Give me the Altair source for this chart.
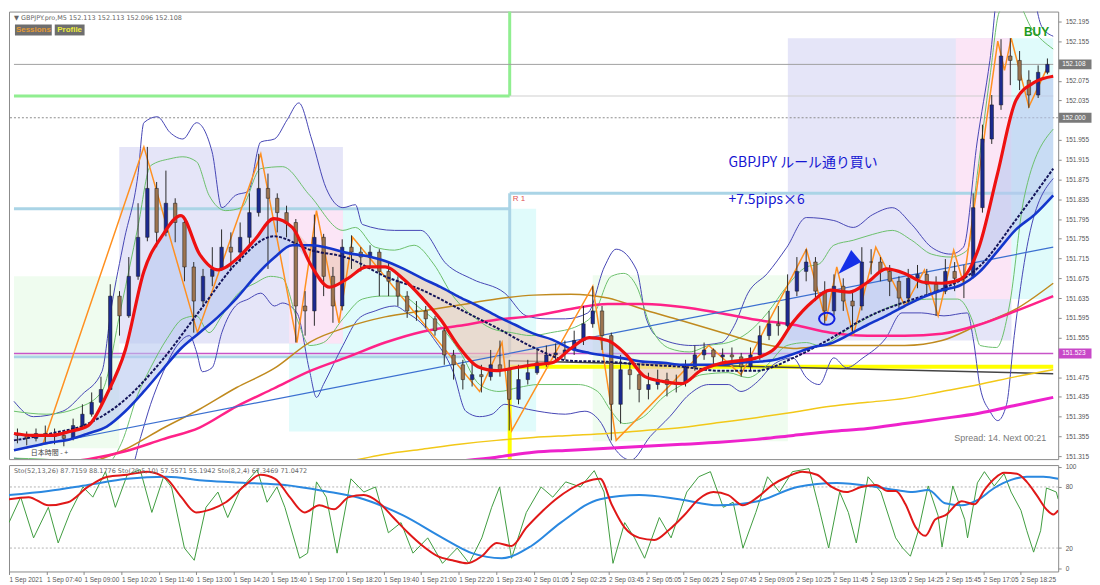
import json
import altair as alt
import pandas as pd

# ---------------- chart content ----------------
symbol_header = "\u25bc GBPJPY.pro,M5  152.113 152.113 152.096 152.108"
stoch_header = "Sto(52,13,26) 87.7159 88.1776  Sto(20,5,10) 57.5571 55.1942  Sto(8,2,4) 67.3469 71.0472"

time_labels = ["1 Sep 2021", "1 Sep 07:40", "1 Sep 09:00", "1 Sep 10:20", "1 Sep 11:40", "1 Sep 13:00",
               "1 Sep 14:20", "1 Sep 15:40", "1 Sep 17:00", "1 Sep 18:20", "1 Sep 19:40", "1 Sep 21:00",
               "1 Sep 22:20", "1 Sep 23:40", "2 Sep 01:05", "2 Sep 02:25", "2 Sep 03:45", "2 Sep 05:05",
               "2 Sep 06:25", "2 Sep 07:45", "2 Sep 09:05", "2 Sep 10:25", "2 Sep 11:45", "2 Sep 13:05",
               "2 Sep 14:25", "2 Sep 15:45", "2 Sep 17:05", "2 Sep 18:25"]
time_tick_bars = [0, 16, 32, 48, 64, 80, 96, 112, 128, 144, 160, 176, 192, 208, 224, 240, 256, 272,
                  288, 304, 320, 336, 352, 368, 384, 400, 416, 432]
# (152.115, 151.995 and 151.515 are hidden behind the price tags)
price_ticks = [151.315, 151.355, 151.395, 151.435, 151.475, 151.555, 151.595, 151.635,
               151.675, 151.715, 151.755, 151.795, 151.835, 151.875, 151.915, 151.955,
               152.035, 152.075, 152.155, 152.195]
stoch_ticks = [0, 20, 80, 100]
stoch_levels = [20, 80]

# 20-minute candles (bar index = M5 bar number)
first_open = 151.360
candle_close = [151.357, 151.351, 151.361, 151.355, 151.357, 151.351, 151.377, 151.400, 151.424, 151.450,
                151.639, 151.599, 151.679, 151.758, 151.857, 151.768, 151.827, 151.788, 151.698, 151.629,
                151.679, 151.694, 151.738, 151.728, 151.758, 151.808, 151.857, 151.837, 151.808, 151.788,
                151.619, 151.609, 151.758, 151.679, 151.619, 151.738, 151.728, 151.718, 151.728, 151.689,
                151.669, 151.639, 151.609, 151.609, 151.593, 151.569, 151.520, 151.500, 151.470, 151.480,
                151.476, 151.500, 151.490, 151.430, 151.470, 151.484, 151.504, 151.520, 151.524, 151.530,
                151.549, 151.583, 151.609, 151.559, 151.420, 151.490, 151.480, 151.450, 151.460, 151.470,
                151.460, 151.464, 151.496, 151.520, 151.530, 151.516, 151.520, 151.516, 151.496, 151.520,
                151.559, 151.583, 151.579, 151.649, 151.689, 151.708, 151.649, 151.609, 151.659, 151.629,
                151.619, 151.708, 151.708, 151.689, 151.669, 151.635, 151.675, 151.683, 151.663, 151.649,
                151.689, 151.675, 151.679, 151.818, 151.957, 152.026, 152.125, 152.116, 152.076, 152.046,
                152.092, 152.108]
candle_high = [151.371, 151.365, 151.371, 151.377, 151.371, 151.367, 151.391, 151.420, 151.444, 151.476,
               151.663, 151.649, 151.718, 151.827, 151.941, 151.870, 151.893, 151.837, 151.798, 151.708,
               151.694, 151.738, 151.774, 151.768, 151.788, 151.847, 151.927, 151.887, 151.847, 151.822,
               151.795, 151.649, 151.804, 151.765, 151.698, 151.754, 151.762, 151.738, 151.742, 151.734,
               151.708, 151.679, 151.649, 151.629, 151.619, 151.599, 151.575, 151.530, 151.510, 151.504,
               151.500, 151.530, 151.549, 151.510, 151.500, 151.510, 151.530, 151.539, 151.543, 151.549,
               151.569, 151.619, 151.659, 151.619, 151.565, 151.520, 151.510, 151.500, 151.484, 151.490,
               151.484, 151.480, 151.510, 151.539, 151.545, 151.533, 151.533, 151.535, 151.524, 151.535,
               151.579, 151.609, 151.619, 151.683, 151.718, 151.734, 151.718, 151.669, 151.683, 151.675,
               151.649, 151.738, 151.734, 151.718, 151.702, 151.679, 151.694, 151.702, 151.694, 151.679,
               151.714, 151.708, 151.702, 151.847, 151.986, 152.046, 152.159, 152.161, 152.135, 152.096,
               152.106, 152.120]
candle_low = [151.341, 151.337, 151.345, 151.341, 151.339, 151.335, 151.347, 151.370, 151.395, 151.418,
              151.450, 151.559, 151.595, 151.672, 151.750, 151.738, 151.760, 151.748, 151.669, 151.565,
              151.619, 151.659, 151.690, 151.694, 151.708, 151.738, 151.800, 151.694, 151.768, 151.758,
              151.545, 151.559, 151.579, 151.639, 151.585, 151.610, 151.694, 151.689, 151.694, 151.639,
              151.639, 151.619, 151.595, 151.589, 151.575, 151.559, 151.500, 151.470, 151.450, 151.456,
              151.444, 151.468, 151.476, 151.367, 151.420, 151.460, 151.480, 151.496, 151.504, 151.510,
              151.520, 151.540, 151.575, 151.530, 151.347, 151.381, 151.450, 151.424, 151.430, 151.450,
              151.436, 151.444, 151.456, 151.488, 151.510, 151.500, 151.504, 151.500, 151.476, 151.488,
              151.510, 151.550, 151.559, 151.575, 151.639, 151.669, 151.629, 151.583, 151.600, 151.609,
              151.563, 151.610, 151.683, 151.669, 151.639, 151.615, 151.623, 151.655, 151.639, 151.599,
              151.643, 151.649, 151.635, 151.675, 151.808, 151.947, 152.016, 152.066, 152.056, 152.020,
              152.040, 152.088]

# moving averages, sampled every 8 bars
ma_fast_bars = list(range(0, 449, 8))
red_ma = [151.361, 151.357, 151.357, 151.365, 151.377, 151.440, 151.530, 151.689, 151.762, 151.802,
          151.724, 151.692, 151.714, 151.754, 151.796, 151.778, 151.702, 151.657, 151.675, 151.698,
          151.698, 151.673, 151.635, 151.591, 151.535, 151.496, 151.488, 151.494, 151.500, 151.504,
          151.533, 151.555, 151.549, 151.520, 151.476, 151.466, 151.462, 151.488, 151.502, 151.508,
          151.514, 151.533, 151.587, 151.627, 151.651, 151.647, 151.667, 151.694, 151.685, 151.667,
          151.665, 151.673, 151.738, 151.887, 152.036, 152.072, 152.084]
blue_ma = [151.327, 151.335, 151.343, 151.349, 151.361, 151.375, 151.406, 151.446, 151.490, 151.533,
           151.565, 151.597, 151.635, 151.679, 151.716, 151.742, 151.742, 151.736, 151.726, 151.720,
           151.710, 151.694, 151.675, 151.657, 151.637, 151.619, 151.599, 151.581, 151.563, 151.551,
           151.533, 151.524, 151.518, 151.512, 151.506, 151.504, 151.500, 151.500, 151.500, 151.504,
           151.506, 151.510, 151.522, 151.535, 151.543, 151.561, 151.581, 151.599, 151.619, 151.637,
           151.651, 151.661, 151.687, 151.730, 151.774, 151.804, 151.843]
# slower averages, sampled every 16 bars
ma_slow_bars = list(range(0, 449, 16))
navy_ma = [151.347, 151.361, 151.381, 151.430, 151.510, 151.609, 151.706, 151.760, 151.732, 151.716,
           151.679, 151.651, 151.613, 151.575, 151.535, 151.508, 151.506, 151.500, 151.496, 151.488,
           151.488, 151.514, 151.553, 151.597, 151.627, 151.653, 151.698, 151.794, 151.897]
pink_ma = [151.297, 151.301, 151.309, 151.325, 151.349, 151.373, 151.416, 151.452, 151.488, 151.516,
           151.545, 151.567, 151.579, 151.591, 151.599, 151.613, 151.623, 151.623, 151.617, 151.605,
           151.591, 151.581, 151.565, 151.559, 151.559, 151.563, 151.581, 151.609, 151.639]
brown_ma = [151.271, 151.285, 151.301, 151.329, 151.371, 151.410, 151.454, 151.492, 151.547, 151.577,
            151.597, 151.609, 151.621, 151.633, 151.641, 151.643, 151.635, 151.611, 151.589, 151.567,
            151.545, 151.533, 151.539, 151.539, 151.539, 151.549, 151.581, 151.613, 151.665]
yellow_bars = list(range(112, 449, 16))
yellow_ma = [151.291, 151.299, 151.305, 151.319, 151.329, 151.339, 151.347, 151.353, 151.357, 151.361,
             151.367, 151.373, 151.383, 151.393, 151.404, 151.416, 151.424, 151.432, 151.446, 151.460,
             151.476, 151.490]
magenta_bars = list(range(192, 449, 16))
magenta_ma = [151.305, 151.313, 151.323, 151.327, 151.331, 151.335, 151.339, 151.343, 151.349, 151.357,
              151.365, 151.371, 151.381, 151.391, 151.402, 151.418, 151.434]
trend_bars = [0, 448]
trend_vals = [151.327, 151.738]

# Bollinger outer bands
bb_up_bars = [0, 8.4, 21.0, 29.4, 37.9, 42.1, 47.5, 53.4, 56.0, 61.8, 67.3, 72.8, 78.7, 85.4, 89.6,
              95.5, 101.0, 106.4, 112.3, 117.8, 122.8, 128.3, 134.6, 141.8, 147.2, 150.2, 164.1, 175.4,
              186.4, 197.7, 211.6, 220.9, 229.3, 237.7, 247.4, 254.5, 259.6, 268.4, 272.6, 278.5, 292.4,
              305.0, 310.5, 316.4, 324.8, 333.2, 341.6, 353.4, 361.8, 370.2, 378.6, 387.0, 395.5, 403.9,
              409.3, 415.2, 420.7, 424.9, 437.5, 443.0, 448.0]
bb_up_vals = [151.426, 151.395, 151.406, 151.440, 151.486, 151.619, 151.752, 151.883, 151.990, 152.002,
              151.970, 151.957, 151.990, 151.931, 151.818, 151.843, 151.851, 151.951, 151.957, 151.996,
              152.030, 151.957, 151.857, 151.818, 151.824, 151.784, 151.772, 151.772, 151.704, 151.673,
              151.645, 151.599, 151.593, 151.593, 151.605, 151.698, 151.734, 151.692, 151.593, 151.553,
              151.539, 151.545, 151.579, 151.645, 151.685, 151.738, 151.798, 151.792, 151.778, 151.804,
              151.818, 151.784, 151.738, 151.724, 151.738, 151.951, 152.116, 152.275, 152.275, 152.185,
              152.165]
bb_lo_bars = [0, 25.2, 42.1, 50.5, 54.7, 58.9, 64.4, 70.3, 75.7, 78.7, 81.2, 85.4, 89.6, 95.5, 101.0,
              106.4, 112.3, 115.7, 122.0, 127.5, 130.4, 133.4, 141.8, 148.5, 155.7, 164.1, 169.5, 175.4,
              180.9, 189.3, 194.8, 200.7, 206.1, 211.6, 217.5, 225.9, 237.7, 246.1, 253.3, 257.5, 265.9,
              274.3, 282.7, 291.1, 299.5, 307.9, 313.4, 320.6, 327.3, 335.7, 341.6, 347.1, 353.4, 358.9,
              366.0, 375.7, 382.8, 391.2, 400.9, 411.0, 413.5, 416.5, 420.7, 424.1, 427.9, 431.2, 437.5,
              448.0]
bb_lo_vals = [151.311, 151.297, 151.281, 151.291, 151.355, 151.420, 151.486, 151.539, 151.559, 151.526,
              151.486, 151.494, 151.565, 151.619, 151.633, 151.645, 151.619, 151.625, 151.605, 151.486,
              151.434, 151.460, 151.539, 151.593, 151.609, 151.619, 151.605, 151.585, 151.553, 151.486,
              151.406, 151.395, 151.400, 151.420, 151.414, 151.406, 151.400, 151.406, 151.381, 151.341,
              151.307, 151.355, 151.395, 151.440, 151.460, 151.460, 151.446, 151.466, 151.500, 151.514,
              151.474, 151.460, 151.514, 151.494, 151.514, 151.553, 151.605, 151.605, 151.599, 151.605,
              151.553, 151.454, 151.406, 151.387, 151.420, 151.559, 151.758, 151.877]
# inner (green) bands
env_up_bars = [0, 13.9, 28.2, 37.9, 46.3, 53.4, 58.9, 67.3, 72.8, 78.7, 84.1, 91.3, 98.0, 106.4, 115.7,
               127.5, 141.8, 147.2, 155.7, 164.1, 172.5, 180.9, 189.3, 197.7, 206.1, 214.6, 223.0, 231.4,
               243.2, 250.3, 257.5, 262.9, 268.4, 274.3, 282.7, 291.1, 299.5, 307.9, 316.4, 324.8, 333.2,
               341.6, 347.1, 353.4, 361.8, 370.2, 378.6, 387.0, 395.5, 403.9, 411.0, 415.2, 420.7, 424.9,
               432.0, 438.7, 448.0]
env_up_vals = [151.406, 151.400, 151.414, 151.446, 151.619, 151.778, 151.903, 151.917, 151.921, 151.911,
               151.843, 151.812, 151.818, 151.897, 151.901, 151.843, 151.772, 151.778, 151.738, 151.732,
               151.742, 151.704, 151.639, 151.599, 151.573, 151.565, 151.559, 151.565, 151.579, 151.605,
               151.679, 151.685, 151.659, 151.579, 151.533, 151.526, 151.539, 151.545, 151.565, 151.605,
               151.659, 151.698, 151.704, 151.742, 151.752, 151.764, 151.772, 151.752, 151.724, 151.718,
               151.732, 151.883, 152.082, 152.215, 152.235, 152.181, 152.139]
env_lo_bars = [0, 25.2, 39.1, 46.3, 53.4, 58.9, 66.0, 72.8, 78.7, 84.1, 89.6, 96.8, 103.9, 110.6, 115.7,
               122.0, 127.5, 133.4, 141.8, 150.2, 158.6, 167.0, 175.4, 183.8, 192.3, 200.7, 209.1, 217.5,
               225.9, 243.2, 251.6, 257.5, 262.9, 271.4, 279.8, 288.2, 296.6, 307.9, 316.4, 324.8, 333.2,
               341.6, 347.1, 361.8, 378.6, 395.5, 406.8, 413.5, 416.5, 423.6, 429.1, 435.4, 448.0]
env_lo_vals = [151.311, 151.305, 151.297, 151.341, 151.440, 151.494, 151.553, 151.593, 151.599, 151.565,
               151.599, 151.645, 151.665, 151.679, 151.675, 151.593, 151.539, 151.545, 151.593, 151.633,
               151.639, 151.639, 151.613, 151.579, 151.526, 151.460, 151.446, 151.454, 151.460, 151.460,
               151.446, 151.406, 151.381, 151.395, 151.434, 151.460, 151.480, 151.484, 151.474, 151.500,
               151.539, 151.545, 151.539, 151.579, 151.619, 151.633, 151.633, 151.585, 151.539, 151.535,
               151.619, 151.837, 151.977]
# zigzag
zz_bars = [12.6, 56.0, 79.1, 106.4, 122.0, 130.4, 140.1, 146.0, 200.7, 210.4, 214.6, 249.5, 259.6,
           299.5, 313.4, 341.6, 350.0, 354.7, 361.8, 371.5, 384.1, 392.5, 398.4, 405.1, 409.3, 424.1,
           427.0, 429.9, 437.5, 445.9]
zz_vals = [151.341, 151.941, 151.565, 151.927, 151.545, 151.812, 151.585, 151.758, 151.446, 151.545,
           151.367, 151.659, 151.347, 151.539, 151.480, 151.734, 151.589, 151.698, 151.559, 151.738,
           151.619, 151.692, 151.599, 151.732, 151.665, 152.155, 152.096, 152.161, 152.022, 152.106]

# session boxes
box_x0 = [118.6, 0.0, 249.5, 45.4, 118.6, 333.6, 406.0, 430.0]
box_x1 = [225.1, 45.4, 333.6, 141.8, 141.8, 430.0, 430.0, 448.0]
box_top = [151.816, 151.679, 151.681, 151.941, 151.816, 152.161, 152.161, 152.161]
box_bottom = [151.365, 151.331, 151.345, 151.543, 151.543, 151.549, 151.633, 151.633]
box_kind = ["ny", "quiet", "quiet", "tokyo", "london", "tokyo", "london", "ny"]

# pivot / level lines
level_x0 = [0, 213.7, 213.7, 0, 213.7, 213.7, 0, 213.7, 213.7, 213.7, 0, 0]
level_x1 = [213.7, 213.7, 448, 213.7, 448, 213.7, 213.7, 448, 213.7, 448, 448, 448]
level_p0 = [152.044, 152.044, 152.044, 151.816, 151.847, 151.847, 151.516, 151.496, 151.496, 151.508,
            151.523, 152.108]
level_p1 = [152.044, 152.2149, 152.044, 151.816, 151.847, 151.516, 151.516, 151.496, 151.3091, 151.482,
            151.523, 152.108]
level_kind = ["r2", "r2", "r2b", "r1", "r1", "r1", "r1", "pivot", "pivot", "pivot2", "mark", "bid"]
round_level = [152.000]
tag_prices = [152.108, 152.000, 151.523]
tag_kind = ["bid", "round", "mark"]

# annotations
note_bar = [308.0, 308.0]
note_price = [151.908, 151.833]
note_text = ["GBPJPY  \u30eb\u30fc\u30eb\u901a\u308a\u8cb7\u3044", "+7.5pips\u00d76"]
buy_bar, buy_price = 435.4, 152.173
r1_bar, r1_price = 215.0, 151.835
spread_bar, spread_price = 445.0, 151.351
circle_bar, circle_price = 350.4, 151.593
arrow_bar, arrow_price = 360.5, 151.708

# stochastic oscillators
sto_fast_bars = [0, 5.0, 10.5, 16.8, 21.0, 26.1, 31.6, 35.8, 41.2, 45.4, 50.5, 56.0, 61.0, 66.0, 69.4,
                 74.9, 79.1, 84.1, 89.2, 93.4, 98.9, 106.0, 110.2, 114.4, 117.8, 124.1, 127.5, 131.3,
                 135.5, 140.1, 146.0, 151.5, 156.5, 162.0, 167.4, 172.5, 178.8, 185.1, 191.4, 196.5,
                 201.9, 206.1, 209.5, 214.6, 220.9, 227.2, 232.2, 237.7, 244.0, 249.9, 254.1, 257.9,
                 262.9, 267.1, 271.4, 277.7, 282.7, 289.4, 294.5, 299.5, 305.0, 309.2, 313.4, 318.9,
                 323.9, 329.0, 334.5, 341.6, 345.8, 350.0, 354.7, 358.4, 361.8, 366.8, 372.3, 378.6,
                 381.6, 384.9, 388.3, 392.5, 396.7, 398.4, 403.0, 408.1, 409.3, 413.5, 416.5, 420.7,
                 424.9, 427.9, 432.1, 434.6, 437.5, 440.5, 443.0, 447.2, 448.0]
sto_fast_vals = [45, 70, 30, 60, 25, 55, 80, 70, 95, 60, 92, 97, 55, 90, 80, 20, 8, 60, 75, 50,
                 78, 97, 65, 80, 60, 10, 15, 85, 70, 15, 88, 75, 80, 35, 45, 15, 30, 5, 20, 5,
                 30, 60, 80, 10, 55, 80, 70, 85, 80, 96, 75, 5, 45, 30, 10, 50, 30, 75, 90, 95,
                 60, 65, 20, 55, 90, 75, 95, 98, 60, 20, 75, 55, 25, 90, 75, 30, 20, 12, 37, 81,
                 52, 21, 81, 48, 30, 84, 95, 81, 93, 75, 57, 37, 16, 37, 79, 75, 68]
sto_mid_bars = [0, 8.4, 16.8, 25.2, 33.7, 42.1, 50.5, 58.9, 67.3, 73.6, 79.9, 86.2, 92.6, 101.0, 107.3,
                113.6, 119.9, 126.2, 132.5, 138.8, 145.1, 151.5, 157.8, 164.1, 170.4, 176.7, 183.0,
                189.3, 195.6, 201.9, 208.2, 214.6, 220.9, 227.2, 233.5, 239.8, 246.1, 252.4, 257.5,
                262.9, 269.2, 275.6, 281.9, 288.2, 294.5, 300.8, 307.1, 313.4, 319.7, 326.0, 332.4,
                338.7, 345.0, 351.3, 357.6, 363.9, 370.2, 375.3, 378.6, 382.8, 387.0, 391.3, 395.5,
                399.7, 406.8, 412.3, 416.5, 420.7, 424.9, 430.4, 434.6, 438.8, 443.0, 445.9, 448.0]
sto_mid_vals = [68, 70, 62, 65, 80, 90, 92, 95, 88, 70, 55, 58, 65, 82, 92, 88, 70, 55, 62, 58,
                70, 72, 65, 50, 35, 22, 12, 8, 5, 12, 25, 22, 40, 55, 68, 78, 85, 88, 62, 40,
                30, 28, 38, 52, 68, 75, 72, 62, 70, 82, 90, 95, 92, 80, 75, 80, 82, 76, 76, 63,
                41, 32, 48, 52, 66, 63, 77, 88, 94, 93, 85, 72, 58, 53, 57]
sto_slow_bars = [0, 16.8, 33.7, 50.5, 67.3, 84.1, 101.0, 117.8, 134.6, 151.5, 168.3, 185.1, 197.7,
                 210.4, 223.0, 235.6, 252.4, 269.2, 286.1, 302.9, 319.7, 336.6, 353.4, 370.2, 378.6,
                 385.8, 392.5, 399.7, 406.8, 413.5, 420.7, 427.9, 434.6, 441.7, 448.0]
sto_slow_vals = [72, 76, 82, 88, 90, 86, 84, 82, 76, 68, 52, 30, 15, 10, 22, 45, 68, 72, 68, 62,
                 66, 80, 84, 80, 77, 75, 77, 64, 62, 67, 79, 87, 90, 90, 88]

# ---------------- build frames ----------------
W, H1, H2 = 1055, 450, 107
XDOM = [0, 448]
PDOM = [151.3091, 152.2149]
FONT = "Liberation Sans"

xs = alt.Scale(domain=XDOM, nice=False, zero=False)
ys = alt.Scale(domain=PDOM, nice=False, zero=False)
vs = alt.Scale(domain=[-3, 101.5], nice=False, zero=False)

n = len(candle_close)
opens = [first_open] + candle_close[:-1]
cdf = pd.DataFrame({
    "bar": [4 * k + 1.5 for k in range(n)],
    "open": opens,
    "close": candle_close,
    "high": [max(h, o, c) for h, o, c in zip(candle_high, opens, candle_close)],
    "low": [min(l, o, c) for l, o, c in zip(candle_low, opens, candle_close)],
})
cdf["dir"] = ["up" if c >= o else "down" for o, c in zip(cdf["open"], cdf["close"])]

fast_df = pd.DataFrame({"bar": ma_fast_bars, "red": red_ma, "blue": blue_ma})
slow_df = pd.DataFrame({"bar": ma_slow_bars, "navy": navy_ma, "pink": pink_ma, "brown": brown_ma})
yellow_df = pd.DataFrame({"bar": yellow_bars, "v": yellow_ma})
magenta_df = pd.DataFrame({"bar": magenta_bars, "v": magenta_ma})
trend_df = pd.DataFrame({"bar": trend_bars, "v": trend_vals})
bbu_df = pd.DataFrame({"bar": bb_up_bars, "v": bb_up_vals})
bbl_df = pd.DataFrame({"bar": bb_lo_bars, "v": bb_lo_vals})
envu_df = pd.DataFrame({"bar": env_up_bars, "v": env_up_vals})
envl_df = pd.DataFrame({"bar": env_lo_bars, "v": env_lo_vals})
zz_df = pd.DataFrame({"bar": zz_bars, "v": zz_vals})
box_df = pd.DataFrame({"x0": box_x0, "x1": box_x1, "top": box_top, "bottom": box_bottom, "kind": box_kind})
lvl_df = pd.DataFrame({"x0": level_x0, "x1": level_x1, "p0": level_p0, "p1": level_p1, "kind": level_kind})
round_df = pd.DataFrame({"p": round_level})
tag_df = pd.DataFrame({"p": tag_prices, "kind": tag_kind})
note_df = pd.DataFrame({"bar": note_bar, "p": note_price, "t": note_text})
one = pd.DataFrame({"k": [0]})

price_axis = alt.Axis(orient="right", values=price_ticks, format=".3f", title=None, grid=False,
                      domain=False, tickSize=3, tickColor="#888", labelPadding=4, labelFontSize=6.5,
                      labelColor="#555", labelFont=FONT, labelOverlap=False, labelBound=False,
                      labelFlush=False)

X = lambda f="bar": alt.X(f"{f}:Q", scale=xs, axis=None)
Y = lambda f: alt.Y(f"{f}:Q", scale=ys, axis=price_axis)

layers = []
layers.append(alt.Chart(box_df).mark_rect().encode(
    x=X("x0"), x2="x1", y=Y("top"), y2="bottom",
    color=alt.Color("kind:N", legend=None,
                    scale=alt.Scale(domain=["tokyo", "london", "ny", "quiet"],
                                    range=["#e5e5f8", "#fbe5f6", "#e0fbfb", "#effcef"]))))

# level lines, one layer per style
level_styles = [("r2", "#90ee90", 3), ("r2b", "#cfcfcf", 1), ("r1", "#aad4e6", 3), ("pivot", "#ffff00", 4),
                ("pivot2", "#444444", 1.5), ("mark", "#c855c8", 1.5), ("bid", "#a0a0a0", 1)]
for kind, col, wid in level_styles:
    layers.append(alt.Chart(lvl_df).transform_filter(alt.datum.kind == kind).mark_rule(
        color=col, strokeWidth=wid).encode(x=X("x0"), x2="x1", y=Y("p0"), y2="p1"))
layers.append(alt.Chart(round_df).mark_rule(color="#8c8c8c", strokeDash=[2, 2], strokeWidth=1).encode(
    y=Y("p")))

cloud = alt.Chart(fast_df).transform_calculate(lo="min(datum.red, datum.blue)",
                                               hi="max(datum.red, datum.blue)")
layers.append(cloud.mark_area(color="#b8c8f0", opacity=0.6, interpolate="monotone").encode(
    x=X(), y=Y("red"), y2="lo:Q"))
layers.append(cloud.mark_area(color="#eccab8", opacity=0.65, interpolate="monotone").encode(
    x=X(), y=Y("red"), y2="hi:Q"))


def line(df, field, color, width, dash=None, interp="monotone"):
    kw = dict(color=color, strokeWidth=width, interpolate=interp, clip=True)
    if dash:
        kw["strokeDash"] = dash
    return alt.Chart(df).mark_line(**kw).encode(x=X(), y=Y(field))


layers += [
    line(bbu_df, "v", "#4646b4", 1),
    line(bbl_df, "v", "#4646b4", 1),
    line(envu_df, "v", "#6cc06c", 1),
    line(envl_df, "v", "#6cc06c", 1),
    line(yellow_df, "v", "#f2c818", 1.5),
    line(magenta_df, "v", "#ee22cc", 3),
    line(slow_df, "brown", "#c08a1e", 1.5),
    line(slow_df, "pink", "#ff2288", 2.5),
    line(trend_df, "v", "#3b6fd0", 1.2, interp="linear"),
    line(zz_df, "v", "#ff9020", 1.5, interp="linear"),
]

layers.append(alt.Chart(cdf).mark_rule(color="#2a2a2a", strokeWidth=1).encode(
    x=X(), y=Y("low"), y2="high"))
layers.append(alt.Chart(cdf).mark_bar(size=3.5, stroke="#1a1a1a", strokeWidth=0.5).encode(
    x=X(), y=Y("open"), y2="close",
    color=alt.Color("dir:N", legend=None,
                    scale=alt.Scale(domain=["up", "down"], range=["#1c2a90", "#9c7450"]))))

layers += [
    line(slow_df, "navy", "#14145a", 2, dash=[3, 1.5]),
    line(fast_df, "blue", "#1436cc", 2.6),
    line(fast_df, "red", "#ee1111", 3.2),
]

# markers
layers.append(alt.Chart(pd.DataFrame({"bar": [circle_bar], "p": [circle_price]})).mark_point(
    shape="M-1.3,0A1.3,1,0,1,0,1.3,0A1.3,1,0,1,0,-1.3,0Z", size=144, filled=False,
    stroke="#1020e0", strokeWidth=2, opacity=1).encode(x=X(), y=Y("p")))
layers.append(alt.Chart(pd.DataFrame({"bar": [arrow_bar], "p": [arrow_price]})).mark_point(
    shape="M-1,1L0.08,-1L0.92,0Z", size=576, filled=True, color="#1530e8", opacity=1).encode(
    x=X(), y=Y("p")))

# texts
layers.append(alt.Chart(note_df).mark_text(align="left", baseline="middle", font="Noto Sans CJK JP",
                                           fontSize=14, color="#1616d2").encode(
    x=X(), y=Y("p"), text="t:N"))
layers.append(alt.Chart(pd.DataFrame({"bar": [buy_bar], "p": [buy_price], "t": ["BUY"]})).mark_text(
    align="left", baseline="middle", font=FONT, fontSize=12, fontWeight="bold", color="#1e9a1e").encode(
    x=X(), y=Y("p"), text="t:N"))
layers.append(alt.Chart(pd.DataFrame({"bar": [r1_bar], "p": [r1_price], "t": ["R 1"]})).mark_text(
    align="left", baseline="middle", font=FONT, fontSize=8, color="#e05050").encode(
    x=X(), y=Y("p"), text="t:N"))
layers.append(alt.Chart(pd.DataFrame({"bar": [spread_bar], "p": [spread_price],
                                      "t": ["Spread: 14. Next 00:21"]})).mark_text(
    align="right", baseline="middle", font=FONT, fontSize=9, color="#777777").encode(
    x=X(), y=Y("p"), text="t:N"))
layers.append(alt.Chart(one).mark_text(align="left", baseline="middle", font="Noto Sans CJK JP",
                                       fontSize=7, color="#444").encode(
    x=alt.value(22), y=alt.value(H1 - 6), text=alt.value("\u65e5\u672c\u6642\u9593   -  +")))
layers.append(alt.Chart(one).mark_text(align="left", baseline="middle", font="DejaVu Sans",
                                       fontSize=6.5, color="#666").encode(
    x=alt.value(5), y=alt.value(6), text=alt.value(symbol_header)))
layers.append(alt.Chart(one).mark_rect(color="#6e6e6e").encode(
    x=alt.value(6), x2=alt.value(43), y=alt.value(13), y2=alt.value(24)))
layers.append(alt.Chart(one).mark_rect(color="#6e6e6e").encode(
    x=alt.value(46), x2=alt.value(76), y=alt.value(13), y2=alt.value(24)))
layers.append(alt.Chart(one).mark_text(align="center", baseline="middle", font=FONT, fontSize=8,
                                       fontWeight="bold", color="#e49a34").encode(
    x=alt.value(24.5), y=alt.value(18.5), text=alt.value("Sessions")))
layers.append(alt.Chart(one).mark_text(align="center", baseline="middle", font=FONT, fontSize=8,
                                       fontWeight="bold", color="#ecec3a").encode(
    x=alt.value(61), y=alt.value(18.5), text=alt.value("Profile")))

# price tags on the axis
layers.append(alt.Chart(tag_df).mark_point(shape="M-3.3,-1V1H3.3V-1Z", size=100, filled=True,
                                           opacity=1).encode(
    x=alt.value(W + 17), y=Y("p"),
    color=alt.Color("kind:N", legend=None,
                    scale=alt.Scale(domain=["bid", "round", "mark"],
                                    range=["#7a7a7a", "#7a7a7a", "#c848c8"]))))
layers.append(alt.Chart(tag_df).mark_text(align="left", baseline="middle", font=FONT, fontSize=6.5,
                                          color="white").encode(
    x=alt.value(W + 4), y=Y("p"), text=alt.Text("p:Q", format=".3f")))

top = alt.layer(*layers).resolve_scale(color="independent").properties(width=W, height=H1)

# ---------------- oscillator panel ----------------
fast_sto = pd.DataFrame({"bar": sto_fast_bars, "v": sto_fast_vals})
mid_sto = pd.DataFrame({"bar": sto_mid_bars, "v": sto_mid_vals})
slow_sto = pd.DataFrame({"bar": sto_slow_bars, "v": sto_slow_vals})

labels_js = json.dumps(time_labels)
time_axis = alt.Axis(values=time_tick_bars, labelExpr=labels_js + "[round(datum.value / 16)]",
                     labelAlign="left", labelBaseline="top", labelPadding=2, labelFontSize=6.5,
                     labelColor="#555", labelFont=FONT, tickSize=3, tickColor="#888", domain=False,
                     grid=False, title=None, labelOverlap=False, labelFlush=False, labelBound=False)
sto_axis = alt.Axis(orient="right", values=stoch_ticks, title=None, grid=False, domain=False,
                    tickSize=3, tickColor="#888", labelPadding=4, labelFontSize=6.5, labelColor="#555",
                    labelFont=FONT, labelOverlap=False, labelBound=False, labelFlush=False)

SX = alt.X("bar:Q", scale=xs, axis=time_axis)
SY = lambda f: alt.Y(f"{f}:Q", scale=vs, axis=sto_axis)

lower_layers = [
    alt.Chart(pd.DataFrame({"v": stoch_levels})).mark_rule(color="#b4b4b4", strokeDash=[2, 2]).encode(
        y=SY("v")),
    alt.Chart(fast_sto).mark_line(color="#3f9c3f", strokeWidth=1, clip=True).encode(x=SX, y=SY("v")),
    alt.Chart(slow_sto).mark_line(color="#2a88e0", strokeWidth=2, interpolate="monotone",
                                  clip=True).encode(x=SX, y=SY("v")),
    alt.Chart(mid_sto).mark_line(color="#e01818", strokeWidth=2, interpolate="monotone",
                                 clip=True).encode(x=SX, y=SY("v")),
    alt.Chart(one).mark_text(align="left", baseline="middle", font="DejaVu Sans", fontSize=6.5,
                             color="#666").encode(
        x=alt.value(5), y=alt.value(6), text=alt.value(stoch_header)),
]
bottom = alt.layer(*lower_layers).properties(width=W, height=H2)

chart = alt.vconcat(top, bottom, spacing=1).properties(
    padding={"left": 0, "top": 0, "right": 0, "bottom": 0}, background="white"
).configure_view(stroke="#8a8a8a", strokeWidth=1)

chart.save("out.html", embed_options={"renderer": "svg", "actions": False})
